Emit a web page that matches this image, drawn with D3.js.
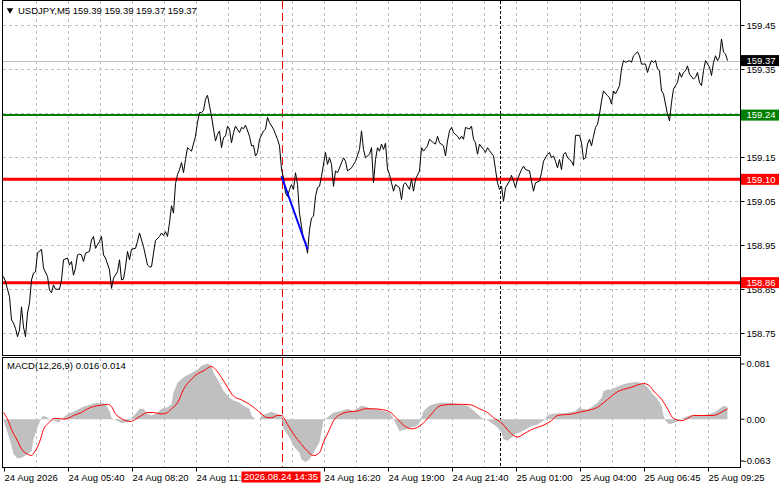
<!DOCTYPE html>
<html>
<head>
<meta charset="utf-8">
<script src="https://cdn.jsdelivr.net/npm/d3@7/dist/d3.min.js"></script>
<style>
  body { margin: 0; background: #fff; }
  svg text { font-family: "Liberation Sans", Arial, sans-serif; font-size: 9.5px; fill: #000; }
</style>
</head>
<body>
<svg id="chart" width="781" height="489"></svg>
<script>
// ---- data (M5 bars, index 0 = first bar on screen) ----
const symbolTitle = "USDJPY,M5  159.39 159.39 159.37 159.37";
const macdTitle = "MACD(12,26,9) 0.016 0.014";

const priceBars = [
  0,1,3,4,5,6,7,8,9,10,11,12,13,14,15,16,17,18,19,20,22,23,24,25,26,28,29,30,32,33,34,35,36,37,38,39,40,41,43,44,
  45,46,48,49,50,51,53,54,55,57,58,59,60,61,62,63,64,66,67,68,69,70,72,73,74,75,76,78,79,80,81,82,83,84,85,86,87,88,89,90,
  91,92,93,94,96,97,98,99,100,101,102,103,104,105,106,107,108,109,110,111,112,113,114,115,116,118,119,120,121,123,124,125,126,127,128,130,131,132,133,135,
  137,138,139,140,141,142,143,144,145,146,147,148,149,150,151,152,153,154,155,156,157,158,159,161,162,163,164,165,166,167,168,170,171,172,174,176,178,179,180,181,
  183,184,185,186,187,188,189,190,191,192,193,194,195,196,198,199,200,201,203,204,205,206,208,209,210,211,212,213,215,216,217,218,220,221,222,223,224,225,227,228,
  229,230,231,233,234,235,236,237,238,240,241,242,243,245,246,247,248,249,250,251,253,254,255,256,257,259,260,261,263,264,265,266,268,269,270,272,273,274,275,276,
  277,278,279,280,281,282,283,284,285,286,288,289,290,291,292,293,294,295,296,297,298,299,300,302,303,304,305,306,308,309,310,311,313,314,315,317,318,319,320,321,
  322,323,324,325,326,327,328,329,330,331,332,333,334,335,336,337,338,339,340,341,342,343,345,346,347,348,349,350,351,353,354,355,356,357,358,359,360,361,362
];
const priceClose = [
  158.879,158.867,158.833,158.780,158.773,158.761,158.742,158.757,158.810,158.764,158.742,158.796,158.819,158.871,158.887,158.890,158.933,158.936,158.941,158.898,
  158.879,158.848,158.842,158.860,158.850,158.850,158.871,158.917,158.921,158.905,158.913,158.882,158.898,158.928,158.930,158.928,158.913,158.932,158.936,158.962,
  158.970,158.943,158.959,158.970,158.928,158.921,158.894,158.852,158.875,158.890,158.917,158.871,158.873,158.901,158.936,158.917,158.941,158.943,158.959,158.978,
  158.962,158.947,158.905,158.901,158.901,158.932,158.961,158.970,158.978,158.972,158.981,158.970,159.001,159.040,159.023,159.090,159.111,159.122,159.138,159.115,
  159.145,159.172,159.168,159.164,159.198,159.229,159.252,159.252,159.256,159.282,159.291,159.267,159.244,159.214,159.187,159.202,159.210,159.172,159.195,159.198,
  159.221,159.214,159.183,159.206,159.221,159.206,159.218,159.215,159.223,159.198,159.176,159.177,159.153,159.161,159.191,159.210,159.214,159.241,159.229,159.214,
  159.191,159.176,159.123,159.103,159.069,159.061,159.077,159.088,159.077,159.115,159.088,159.023,158.993,158.962,158.959,158.932,158.985,159.012,159.016,159.061,
  159.081,159.084,159.107,159.161,159.134,159.149,159.134,159.084,159.119,159.115,159.126,159.149,159.141,159.119,159.126,159.141,159.168,159.210,159.168,159.149,
  159.157,159.172,159.092,159.145,159.172,159.164,159.180,159.168,159.182,159.123,159.111,159.092,159.073,159.088,159.081,159.054,159.088,159.092,159.077,159.100,
  159.073,159.100,159.119,159.172,159.164,159.170,159.176,159.191,159.183,159.180,159.198,159.183,159.176,159.153,159.187,159.210,159.218,159.206,159.198,159.191,
  159.198,159.191,159.218,159.214,159.221,159.191,159.183,159.157,159.180,159.168,159.161,159.172,159.165,159.153,159.122,159.092,159.077,159.084,159.050,159.081,
  159.096,159.109,159.096,159.081,159.100,159.122,159.130,159.122,159.119,159.096,159.073,159.092,159.096,159.115,159.141,159.157,159.161,159.149,159.153,159.141,
  159.126,159.145,159.122,159.157,159.161,159.149,159.145,159.141,159.131,159.200,159.200,159.183,159.145,159.149,159.180,159.191,159.176,159.198,159.218,159.225,
  159.248,159.278,159.301,159.290,159.286,159.271,159.301,159.294,159.313,159.351,159.370,159.366,159.370,159.366,159.381,159.390,159.381,159.362,159.362,159.362,
  159.343,159.358,159.370,159.366,159.370,159.351,159.347,159.301,159.294,159.271,159.248,159.233,159.275,159.305,159.313,159.320,159.343,159.332,159.343,159.347,
  159.358,159.339,159.328,159.332,159.343,159.320,159.313,159.347,159.370,159.355,159.336,159.366,159.381,159.370,159.378,159.419,159.389,159.385,159.370
];

const histBars = [
  0,2,4,5,7,9,11,14,15,17,19,20,22,24,25,28,29,31,33,35,38,40,43,45,49,51,53,54,56,59,60,63,64,66,68,70,72,74,77,79,
  82,84,85,87,89,91,94,97,99,102,104,105,108,110,113,115,118,120,123,124,126,128,129,132,134,137,139,140,143,145,148,149,151,153,155,158,160,163,165,169,
  172,175,179,181,184,187,190,193,194,196,198,201,204,206,208,210,213,215,218,220,224,228,232,234,237,239,242,244,247,249,250,252,254,256,258,261,264,267,270,272,
  274,277,280,283,286,288,289,292,294,297,299,300,302,304,307,310,313,317,320,322,324,327,329,330,331,333,335,338,340,343,346,349,353,356,358,360,362
];
const histValues = [
  -0.002,-0.018,-0.036,-0.047,-0.053,-0.052,-0.049,-0.043,-0.027,-0.011,0.002,0.005,0.002,-0.001,-0.002,-0.004,0.000,0.005,0.008,0.010,
  0.014,0.017,0.019,0.021,0.022,0.020,0.011,0.002,-0.001,-0.005,-0.005,-0.002,0.002,0.007,0.014,0.014,0.007,0.005,0.009,0.014,
  0.016,0.020,0.036,0.049,0.054,0.058,0.062,0.067,0.072,0.075,0.072,0.063,0.049,0.038,0.029,0.025,0.022,0.018,0.014,0.005,
  0.000,0.000,0.005,0.008,0.010,0.007,0.005,-0.013,-0.025,-0.036,-0.045,-0.054,-0.058,-0.054,-0.045,-0.031,-0.002,0.005,0.009,0.011,
  0.014,0.011,0.018,0.017,0.014,0.013,0.011,0.009,0.005,-0.005,-0.016,-0.014,-0.011,-0.010,-0.005,0.011,0.018,0.020,0.022,0.022,
  0.022,0.020,0.018,0.014,0.007,0.002,-0.001,-0.005,-0.011,-0.018,-0.027,-0.029,-0.025,-0.020,-0.018,-0.014,-0.009,-0.007,-0.002,0.005,
  0.007,0.008,0.008,0.009,0.011,0.016,0.014,0.013,0.016,0.022,0.029,0.038,0.040,0.040,0.044,0.047,0.049,0.050,0.047,0.043,
  0.036,0.027,0.018,0.005,-0.002,-0.007,-0.005,-0.002,0.002,0.005,0.005,0.005,0.007,0.010,0.014,0.018,0.016
];

const signalBars = [
  0,2,4,7,9,12,14,15,18,20,23,25,28,30,33,35,39,42,45,49,52,54,56,59,61,64,66,69,72,75,79,82,84,87,90,94,97,100,104,106,
  109,112,115,119,123,126,129,132,134,137,139,142,145,149,152,155,158,160,163,165,169,173,177,181,185,189,193,197,200,204,207,210,214,217,220,225,230,234,238,242,
  245,249,252,255,257,260,264,267,270,274,277,280,284,289,294,297,300,304,307,310,314,317,320,323,325,329,332,335,339,342,345,350,355,358,360,362
];
const signalValues = [
  0.009,0.000,-0.014,-0.029,-0.040,-0.047,-0.049,-0.046,-0.031,-0.014,-0.004,0.001,0.001,0.000,0.002,0.005,0.009,0.014,0.017,0.019,
  0.020,0.017,0.007,0.001,-0.002,-0.003,0.000,0.005,0.009,0.009,0.007,0.009,0.014,0.022,0.040,0.054,0.061,0.065,0.071,0.067,
  0.056,0.043,0.031,0.026,0.020,0.014,0.007,0.002,0.002,0.005,0.005,-0.007,-0.020,-0.034,-0.043,-0.049,-0.045,-0.031,-0.014,-0.002,
  0.007,0.010,0.011,0.014,0.014,0.013,0.010,0.000,-0.008,-0.013,-0.011,-0.005,0.007,0.016,0.019,0.020,0.020,0.019,0.014,0.009,
  0.002,-0.005,-0.014,-0.022,-0.024,-0.020,-0.014,-0.011,-0.008,-0.002,0.005,0.006,0.007,0.010,0.013,0.016,0.022,0.031,0.037,0.040,
  0.043,0.046,0.048,0.045,0.038,0.027,0.014,0.001,-0.002,0.001,0.005,0.005,0.005,0.008,0.011,0.014
];

const priceTicks = [158.75, 158.85, 158.95, 159.05, 159.15, 159.25, 159.35, 159.45];
const levelValues = [159.246, 159.100, 158.865];
const levelLabels = ["159.24", "159.10", "158.86"];
const currentPrice = 159.37;
const currentLabel = "159.37";
const trendBars = [139, 152];
const trendPrices = [159.107, 158.941];
const markBars = [139, 248];               // red dashed (14:35) and black dashed verticals
const markLabel = "2026.08.24 14:35";
const timeTickBars = [0, 32, 64, 96, 160, 192, 224, 256, 288, 320, 352];
const timeTickLabels = ["24 Aug 2026", "24 Aug 05:40", "24 Aug 08:20", "24 Aug 11:00", "24 Aug 16:20",
  "24 Aug 19:00", "24 Aug 21:40", "25 Aug 01:00", "25 Aug 04:00", "25 Aug 06:45", "25 Aug 09:25"];
const macdTicks = [0.081, 0.0, -0.063];
const macdTickLabels = ["0.081", "0.00", "-0.063"];

// ---- layout ----
const L = 2.5, R = 740.5;
const mainTop = 0.5, mainBottom = 355.5;
const subTop = 357.5, subBottom = 467.5;

const svg = d3.select("#chart");

const x = d3.scaleLinear().domain([0, 362]).range([3.5, 727.5]);
const y = d3.scaleLinear().domain([158.75, 159.45]).range([333.2, 25.4]);
const ym = d3.scaleLinear().domain([-0.063, 0.081]).range([466, 359]);

const grid = svg.append("g").attr("stroke", "#c0c0c0").attr("stroke-dasharray", "3,3").attr("shape-rendering", "crispEdges");

// vertical grid, every 16 bars, in both panels
const vGrid = d3.range(16, 363, 16);
grid.selectAll("line.vm").data(vGrid).join("line").attr("class", "vm")
  .attr("x1", d => Math.round(x(d)) + 0.5).attr("x2", d => Math.round(x(d)) + 0.5)
  .attr("y1", mainTop).attr("y2", mainBottom);
grid.selectAll("line.vs").data(vGrid).join("line").attr("class", "vs")
  .attr("x1", d => Math.round(x(d)) + 0.5).attr("x2", d => Math.round(x(d)) + 0.5)
  .attr("y1", subTop).attr("y2", subBottom);
// horizontal grid
grid.selectAll("line.h").data(priceTicks).join("line").attr("class", "h")
  .attr("x1", L).attr("x2", R)
  .attr("y1", d => Math.round(y(d)) + 0.5).attr("y2", d => Math.round(y(d)) + 0.5);

// current price line
svg.append("line").attr("x1", L).attr("x2", R)
  .attr("y1", Math.round(y(currentPrice)) + 0.5).attr("y2", Math.round(y(currentPrice)) + 0.5)
  .attr("stroke", "#c0c0c0").attr("shape-rendering", "crispEdges");

// vertical markers
const markColors = ["#ff0000", "#000000"];
const markDash = ["8,4", "3,2"];
markBars.forEach((b, i) => {
  const xx = Math.round(x(b)) + 0.5;
  [[mainTop, mainBottom], [subTop, subBottom]].forEach(([a, c]) => {
    svg.append("line").attr("x1", xx).attr("x2", xx).attr("y1", a).attr("y2", c)
      .attr("stroke", markColors[i]).attr("stroke-dasharray", markDash[i])
      .attr("shape-rendering", "crispEdges");
  });
});

// horizontal levels
const levelColors = ["#008000", "#ff0000", "#ff0000"];
const levelWidths = [2, 3, 3];
svg.selectAll("line.level").data(levelValues).join("line").attr("class", "level")
  .attr("x1", L).attr("x2", R)
  .attr("y1", d => y(d)).attr("y2", d => y(d))
  .attr("stroke", (d, i) => levelColors[i]).attr("stroke-width", (d, i) => levelWidths[i]);

// price line
const pricePts = priceBars.map((b, i) => [b, priceClose[i]]);
svg.append("path").datum(pricePts)
  .attr("fill", "none").attr("stroke", "#000").attr("stroke-width", 1)
  .attr("d", d3.line().x(d => x(d[0])).y(d => y(d[1])));

// trend line
svg.append("line")
  .attr("x1", x(trendBars[0])).attr("y1", y(trendPrices[0]))
  .attr("x2", x(trendBars[1])).attr("y2", y(trendPrices[1]))
  .attr("stroke", "#0000ff").attr("stroke-width", 2);

// MACD histogram and signal
const histPts = histBars.map((b, i) => [b, histValues[i]]);
svg.append("path").datum(histPts)
  .attr("fill", "#c0c0c0")
  .attr("d", d3.area().x(d => x(d[0])).y0(ym(0)).y1(d => ym(d[1])));
const sigPts = signalBars.map((b, i) => [b, signalValues[i]]);
svg.append("path").datum(sigPts)
  .attr("fill", "none").attr("stroke", "#ff0000").attr("stroke-width", 1)
  .attr("d", d3.line().curve(d3.curveMonotoneX).x(d => x(d[0])).y(d => ym(d[1])));

// panel frames
const frames = svg.append("g").attr("fill", "none").attr("stroke", "#000").attr("shape-rendering", "crispEdges");
frames.append("rect").attr("x", L).attr("y", mainTop).attr("width", R - L).attr("height", mainBottom - mainTop);
frames.append("rect").attr("x", L).attr("y", subTop).attr("width", R - L).attr("height", subBottom - subTop);

// right price axis
const axisG = svg.append("g");
priceTicks.filter(t => t !== 159.25).forEach(t => {
  const yy = Math.round(y(t)) + 0.5;
  axisG.append("line").attr("x1", R).attr("x2", R + 4).attr("y1", yy).attr("y2", yy).attr("stroke", "#000");
  axisG.append("text").attr("x", 746.5).attr("y", yy).attr("dy", "0.35em").text(d3.format(".2f")(t));
});

// price tags
function tag(val, label, bg) {
  const yy = y(val);
  axisG.append("rect").attr("x", 741).attr("y", yy - 5.5).attr("width", 38).attr("height", 11).attr("fill", bg);
  axisG.append("text").attr("x", 746.5).attr("y", yy).attr("dy", "0.35em").style("fill", "#fff").text(label);
}
tag(currentPrice, currentLabel, "#000");
levelValues.forEach((v, i) => tag(v, levelLabels[i], levelColors[i]));

// MACD axis
macdTicks.forEach((t, i) => {
  const yy = [364, ym(0), 461][i];
  axisG.append("line").attr("x1", R).attr("x2", R + 4).attr("y1", yy).attr("y2", yy).attr("stroke", "#000");
  axisG.append("text").attr("x", t < 0 ? 743.5 : 746.5).attr("y", yy).attr("dy", "0.35em").text(macdTickLabels[i]);
});

// time axis
timeTickBars.forEach((b, i) => {
  const xx = Math.round(x(b)) + 0.5;
  axisG.append("line").attr("x1", xx).attr("x2", xx).attr("y1", subBottom).attr("y2", subBottom + 4).attr("stroke", "#000");
  axisG.append("text").attr("x", xx).attr("y", 481).text(timeTickLabels[i]);
});
const mx = x(markBars[0]);
axisG.append("rect").attr("x", mx - 40).attr("y", 471.5).attr("width", 79).attr("height", 11).attr("fill", "#ff0000");
axisG.append("text").attr("x", mx - 0.5).attr("y", 477).attr("dy", "0.35em").attr("text-anchor", "middle")
  .style("fill", "#fff").text(markLabel);

// titles
svg.append("path").attr("d", d3.symbol().type(d3.symbolTriangle).size(18)())
  .attr("transform", "translate(10,10) rotate(180)").attr("fill", "#000");
svg.append("text").attr("x", 18).attr("y", 11).attr("dy", "0.35em").text(symbolTitle);
svg.append("text").attr("x", 7).attr("y", 366).attr("dy", "0.35em").text(macdTitle);
</script>
</body>
</html>
